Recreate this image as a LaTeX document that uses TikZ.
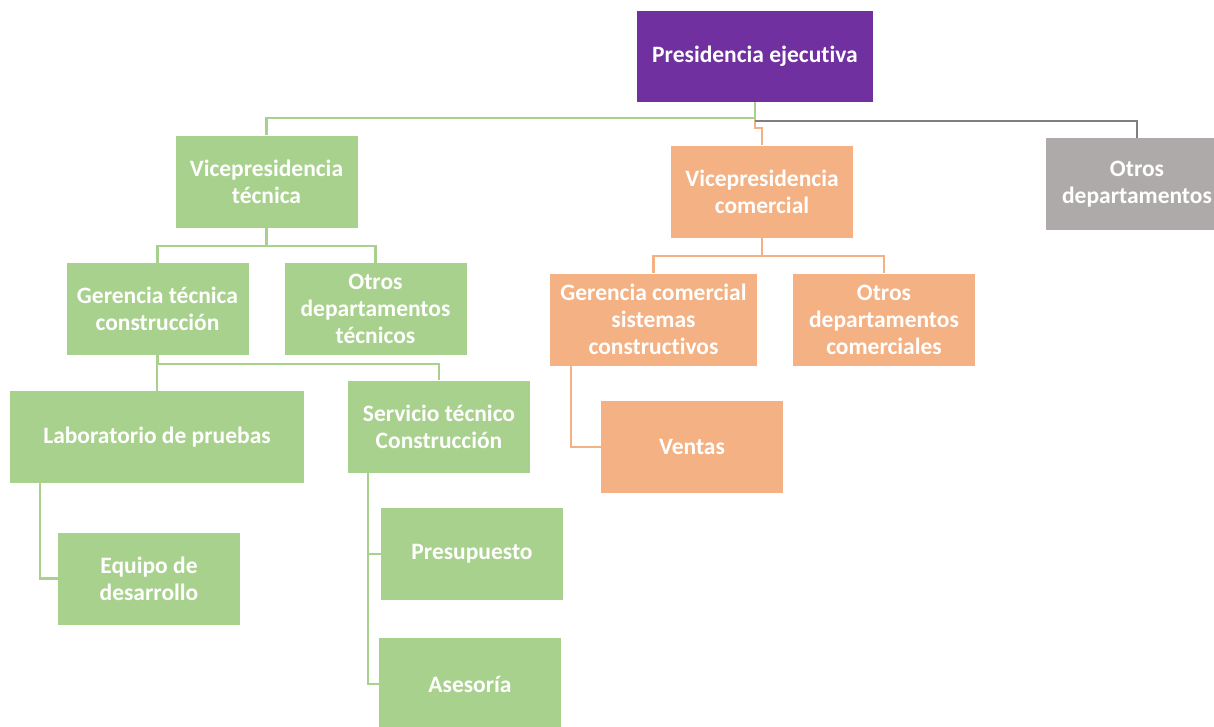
\documentclass[tikz,border=0pt]{standalone}
\usepackage{fontspec}
\setmainfont{Carlito}[Ligatures={NoCommon}]
\definecolor{cpurple}{HTML}{7030A0}
\definecolor{cgreen}{HTML}{A9D18E}
\definecolor{corange}{HTML}{F4B183}
\definecolor{cgray}{HTML}{AEAAAA}
\definecolor{cgrayline}{HTML}{7F7F7F}
\begin{document}
\begin{tikzpicture}[x=1pt,y=-1pt,
  unit/.style={rectangle, fill=#1, text=white, align=center, inner sep=0pt,
    minimum width=182pt, minimum height=92pt,
    font=\fontsize{23.5}{27}\selectfont\bfseries},
  link/.style={draw=#1, line width=2.4pt}]
\useasboundingbox (0,0) rectangle (1214,726);
\clip (0,0) rectangle (1214,726);

% boxes
\node[unit=cpurple, minimum width=236pt, minimum height=91pt] (pe) at (755,56.5) {Presidencia ejecutiva};
\node[unit=cgreen] (vt) at (266.5,181.5) {Vicepresidencia\\técnica};
\node[unit=corange] (vc) at (762,191.5) {Vicepresidencia\\comercial};
\node[unit=cgray] (od) at (1137,184) {Otros\\departamentos};

\node[unit=cgreen] (gtc) at (157.5,309) {Gerencia técnica\\construcción};
\node[unit=cgreen] (odt) at (375.5,309) {Otros\\departamentos\\técnicos};
\node[unit=cgreen, minimum width=294pt] (lp) at (157,437) {Laboratorio de pruebas};
\node[unit=cgreen] (stc) at (439,426.5) {Servicio técnico\\Construcción};
\node[unit=cgreen] (ed) at (149,578.5) {Equipo de\\desarrollo};
\node[unit=cgreen] (pr) at (472,554) {Presupuesto};
\node[unit=cgreen] (as) at (470,684) {Asesoría};

\node[unit=corange, minimum width=207pt] (gcs) at (653.5,319.5) {Gerencia comercial\\sistemas\\constructivos};
\node[unit=corange] (odc) at (884,319.5) {Otros\\departamentos\\comerciales};
\node[unit=corange] (ve) at (692,447) {Ventas};

% connectors from the top unit
\draw[link=corange] (pe.south) -- ++(0,26) -| (vc.north);
\draw[link=cgreen] (pe.south) -- ++(0,16) -| (vt.north);
\coordinate (gj) at (755,121);
\draw[link=cgrayline] (gj) -| (od.north);

% technical branch
\draw[link=cgreen] (vt.south) -- ++(0,18) -| (gtc.north);
\draw[link=cgreen] (vt.south) -- ++(0,18) -| (odt.north);
\draw[link=cgreen] (gtc.south) -- ++(0,9) -| (lp.north);
\draw[link=cgreen] (gtc.south) -- ++(0,9) -| (stc.north);
\draw[link=cgreen] ([xshift=30pt]lp.south west) |- (ed.west);
\draw[link=cgreen] ([xshift=20pt]stc.south west) |- (pr.west);
\draw[link=cgreen] ([xshift=20pt]stc.south west) |- (as.west);

% commercial branch
\draw[link=corange] (vc.south) -- ++(0,18) -| (gcs.north);
\draw[link=corange] (vc.south) -- ++(0,18) -| (odc.north);
\draw[link=corange] ([xshift=21pt]gcs.south west) |- (ve.west);
\end{tikzpicture}
\end{document}
